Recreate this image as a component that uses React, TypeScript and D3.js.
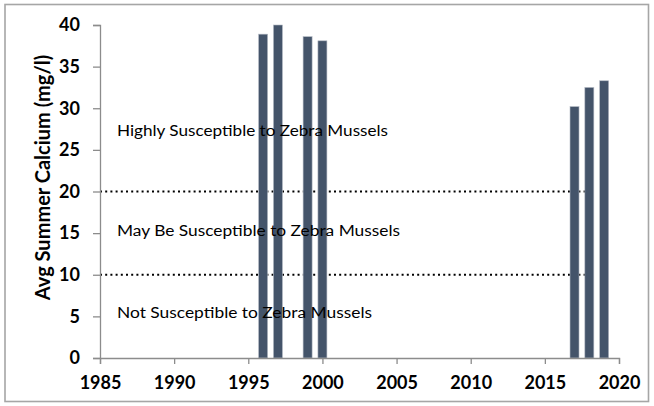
import React, { useEffect, useRef } from "react";
import * as d3 from "d3";

const width = 654;
const height = 406;
const margin = { top: 25, right: 35, bottom: 48, left: 100 };

// yearly average summer calcium (mg/l)
const years = [1996, 1997, 1999, 2000, 2017, 2018, 2019];
const calcium = [38.9, 40.0, 38.6, 38.1, 30.2, 32.5, 33.3];

// susceptibility thresholds and the span of years they are drawn over
const thresholds = [20, 10];
const thresholdYears = [1985, 2018];

const zoneLabels = [
  "Highly Susceptible to Zebra Mussels",
  "May Be Susceptible to Zebra Mussels",
  "Not Susceptible to Zebra Mussels",
];
const zoneValues = [27.3, 15.3, 5.5];
const zoneWidths = [271, 283, 255];

const xTicks = [1985, 1990, 1995, 2000, 2005, 2010, 2015, 2020];
const yTicks = [0, 5, 10, 15, 20, 25, 30, 35, 40];
const yTitle = "Avg Summer Calcium (mg/l)";

const barColor = "#44546a";
const axisColor = "#8c8c8c";
const font = "Lato, 'Open Sans', sans-serif";

const xScale = d3
  .scaleLinear()
  .domain([1985, 2020])
  .range([margin.left, width - margin.right]);
const yScale = d3
  .scaleLinear()
  .domain([0, 40])
  .range([height - margin.bottom, margin.top]);

export default function App() {
  const xAxisRef = useRef<SVGGElement>(null);
  const yAxisRef = useRef<SVGGElement>(null);

  useEffect(() => {
    const xAxis = d3
      .axisBottom(xScale)
      .tickValues(xTicks)
      .tickSize(6)
      .tickPadding(12)
      .tickFormat(d3.format("d"));
    const yAxis = d3
      .axisLeft(yScale)
      .tickValues(yTicks)
      .tickSize(7)
      .tickPadding(13)
      .tickFormat(d3.format("d"));

    const gx = d3.select(xAxisRef.current!).call(xAxis);
    const gy = d3.select(yAxisRef.current!).call(yAxis);

    [gx, gy].forEach((g) => {
      g.select(".domain").attr("stroke", axisColor).attr("stroke-width", 1.3);
      g.selectAll(".tick line").attr("stroke", axisColor).attr("stroke-width", 1.3);
      g.selectAll(".tick text")
        .attr("fill", "#000")
        .style("font-family", font)
        .style("font-weight", "bold")
        .style("font-size", "18px");
    });
  }, []);

  const plotMidY = (yScale(0) + yScale(40)) / 2;

  return (
    <div style={{ position: "fixed", left: 0, top: 0 }}>
      <svg width={width} height={height} style={{ display: "block", background: "#fff" }}>
        <rect
          x={5}
          y={4.5}
          width={643.5}
          height={397}
          fill="#fff"
          stroke="#a6a6a6"
          strokeWidth={1.6}
        />

        {thresholds.map((t) => (
          <line
            key={t}
            x1={xScale(thresholdYears[0])}
            x2={xScale(thresholdYears[1])}
            y1={yScale(t)}
            y2={yScale(t)}
            stroke="#000"
            strokeWidth={2}
            strokeDasharray="2,3.2"
          />
        ))}

        {years.map((yr, i) => (
          <rect
            key={yr}
            x={xScale(yr) - 4.5}
            y={yScale(calcium[i])}
            width={9}
            height={yScale(0) - yScale(calcium[i])}
            fill={barColor}
            stroke="#b4bac4"
            strokeWidth={0.6}
          />
        ))}

        <g ref={xAxisRef} transform={`translate(0, ${yScale(0)})`} />
        <g ref={yAxisRef} transform={`translate(${margin.left}, 0)`} />

        {zoneLabels.map((label, i) => (
          <text
            key={label}
            x={117}
            y={yScale(zoneValues[i])}
            dy="0.35em"
            textLength={zoneWidths[i]}
            lengthAdjust="spacingAndGlyphs"
            fontFamily={font}
            fontSize={15.5}
            fill="#000"
          >
            {label}
          </text>
        ))}

        <text
          transform={`translate(43, ${plotMidY - 14}) rotate(-90)`}
          textAnchor="middle"
          dy="0.35em"
          fontFamily={font}
          fontWeight="bold"
          fontSize={20}
          fill="#000"
        >
          {yTitle}
        </text>
      </svg>
    </div>
  );
}
